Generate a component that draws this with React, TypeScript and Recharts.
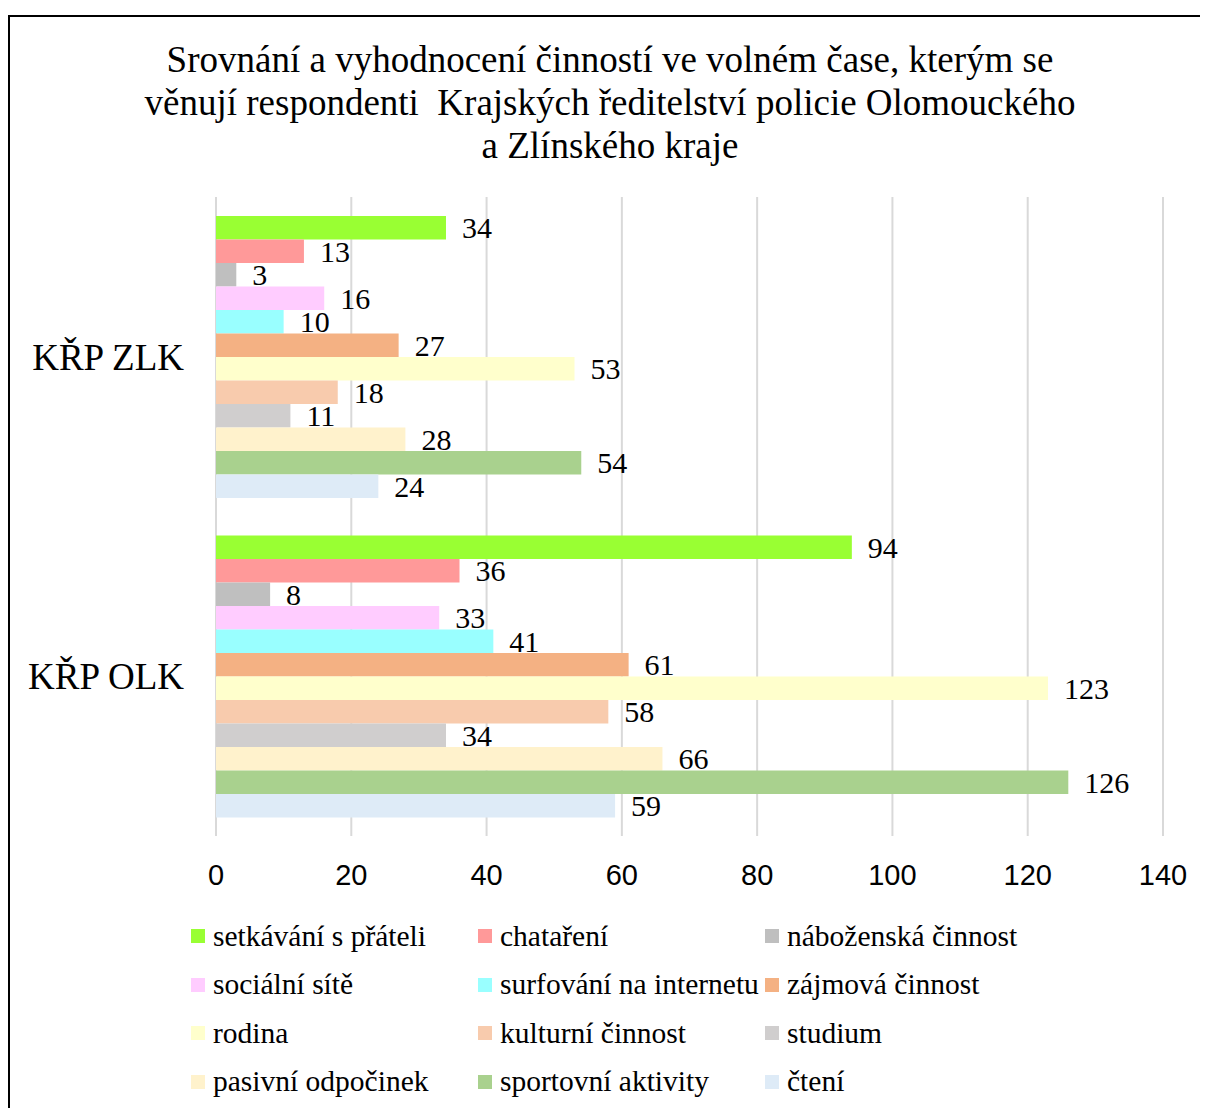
import React from "react";
import { BarChart, Bar, XAxis, YAxis, CartesianGrid, LabelList } from "recharts";

const categories = ["KŘP ZLK", "KŘP OLK"];
const seriesNames = [
  "setkávání s přáteli",
  "chataření",
  "náboženská činnost",
  "sociální sítě",
  "surfování na internetu",
  "zájmová činnost",
  "rodina",
  "kulturní činnost",
  "studium",
  "pasivní odpočinek",
  "sportovní aktivity",
  "čtení",
];
const seriesColors = [
  "#99ff33", "#ff9999", "#bfbfbf", "#ffccff", "#99ffff", "#f4b183",
  "#ffffcc", "#f8cbad", "#d0cece", "#fff2cc", "#a9d18e", "#deebf7",
];
const zlkValues = [34, 13, 3, 16, 10, 27, 53, 18, 11, 28, 54, 24];
const olkValues = [94, 36, 8, 33, 41, 61, 123, 58, 34, 66, 126, 59];
const xTicks = [0, 20, 40, 60, 80, 100, 120, 140];

const groupValues = [zlkValues, olkValues];
const data = categories.map((cat, ci) => {
  const row: Record<string, string | number> = { cat };
  seriesNames.forEach((_, si) => {
    row["s" + si] = groupValues[ci][si];
  });
  return row;
});

const serif = '"Liberation Serif", "Times New Roman", serif';

export default function App() {
  return (
    <div
      style={{
        position: "relative",
        marginTop: 7,
        width: 1210,
        height: 1110,
        border: "2px solid #000",
        background: "#fff",
        fontFamily: serif,
      }}
    >
      <div
        style={{
          position: "absolute",
          left: 0,
          top: 21,
          width: 1208,
          marginLeft: -4,
          textAlign: "center",
          fontSize: 37,
          lineHeight: "43px",
          color: "#000",
        }}
      >
        Srovnání a vyhodnocení činností ve volném čase, kterým se
        <br />
        věnují respondenti&nbsp; Krajských ředitelství policie Olomouckého
        <br />
        a Zlínského kraje
      </div>
      <BarChart
        width={1200}
        height={900}
        data={data}
        layout="vertical"
        barSize={23.5}
        barGap={0}
        margin={{ top: 180, right: 47, left: 0, bottom: 51 }}
        style={{ position: "absolute", left: 0, top: 0 }}
      >
        <CartesianGrid horizontal={false} stroke="#d9d9d9" strokeWidth={2} />
        <XAxis
          type="number"
          domain={[0, 140]}
          ticks={xTicks}
          axisLine={false}
          tickLine={false}
          tick={{ fill: "#000", fontSize: 29, fontFamily: '"Liberation Sans", Arial, sans-serif' }}
          tickMargin={22}
        />
        <YAxis
          type="category"
          dataKey="cat"
          width={206}
          axisLine={false}
          tickLine={false}
          tickMargin={26}
          tick={{ fill: "#000", fontSize: 37, fontFamily: serif }}
        />
        {seriesNames.map((name, si) => (
          <Bar
            key={name}
            dataKey={"s" + si}
            name={name}
            fill={seriesColors[si]}
            isAnimationActive={false}
          >
            <LabelList
              dataKey={"s" + si}
              position="right"
              offset={16}
              fill="#000"
              fontSize={30}
              fontFamily={serif}
            />
          </Bar>
        ))}
      </BarChart>
      <div
        style={{
          position: "absolute",
          left: 181,
          top: 895,
          display: "grid",
          gridTemplateColumns: "287px 287px 300px",
          rowGap: 0,
        }}
      >
        {seriesNames.map((name, si) => (
          <div
            key={name}
            style={{ display: "flex", alignItems: "center", height: 48.5, fontSize: 29.5, color: "#000" }}
          >
            <span
              style={{
                display: "inline-block",
                width: 14,
                height: 14,
                background: seriesColors[si],
                marginRight: 8,
              }}
            />
            {name}
          </div>
        ))}
      </div>
    </div>
  );
}
